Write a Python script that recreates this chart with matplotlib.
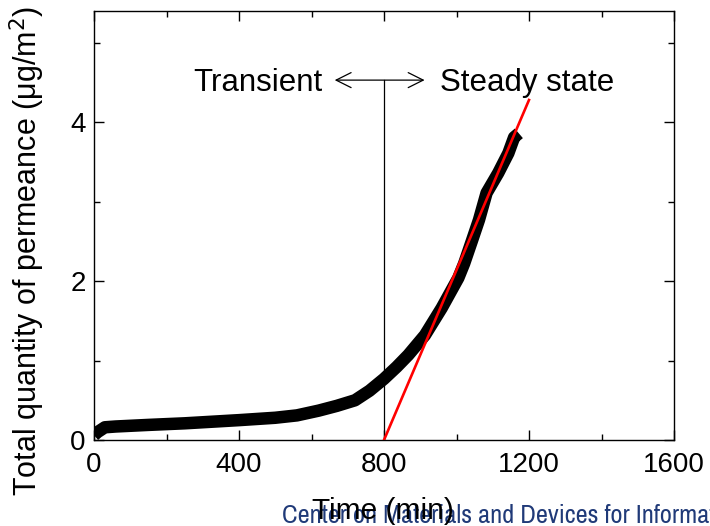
import matplotlib
matplotlib.use("Agg")
import matplotlib.pyplot as plt
from matplotlib.ticker import MultipleLocator

plt.rcParams['font.family'] = ['Liberation Sans', 'DejaVu Sans']

time_min = [0, 10, 30, 60, 150, 250, 400, 500, 560, 620, 670, 720, 760, 800,
            835, 867, 913, 959, 1005, 1021, 1042, 1062, 1083, 1115, 1143, 1159, 1172]
permeance = [0.06, 0.10, 0.16, 0.17, 0.19, 0.21, 0.25, 0.28, 0.31, 0.37, 0.43,
             0.50, 0.62, 0.77, 0.92, 1.07, 1.32, 1.66, 2.04, 2.22, 2.5, 2.77,
             3.11, 3.36, 3.61, 3.81, 3.86]

# steady-state fit line
fit_x = [800, 1200]
fit_y = [0, 4.28]

# transient / steady marker
split_x = 800
split_top = 4.53
arrow_x = [664, 912]

fig = plt.figure(figsize=(7.1, 5.26), dpi=100)
ax = fig.add_axes([94 / 710, 1 - 440 / 526, 580 / 710, 429 / 526])

ax.plot(time_min, permeance, color='black', lw=9, solid_capstyle='butt',
        solid_joinstyle='round', zorder=2)
ax.plot(fit_x, fit_y, color='red', lw=1.9, zorder=3)

ax.plot([split_x, split_x], [0, split_top], color='black', lw=0.9, zorder=1)
ax.annotate('', xy=(arrow_x[0], split_top), xytext=(arrow_x[1], split_top),
            arrowprops=dict(arrowstyle='<->', lw=0.9, color='black',
                            mutation_scale=27, shrinkA=0, shrinkB=0))
ax.text(629, 4.39, 'Transient', fontsize=22.5, ha='right', va='baseline')
ax.text(955, 4.39, 'Steady state', fontsize=22.5, ha='left', va='baseline')

ax.set_xlim(0, 1600)
ax.set_ylim(0, 5.4)
ax.xaxis.set_major_locator(MultipleLocator(400))
ax.xaxis.set_minor_locator(MultipleLocator(200))
ax.yaxis.set_major_locator(MultipleLocator(2))
ax.yaxis.set_minor_locator(MultipleLocator(1))
ax.tick_params(which='both', direction='in', top=True, right=True,
               width=1, labelsize=20)
ax.tick_params(which='major', length=7)
ax.tick_params(which='minor', length=4.5)
ax.tick_params(axis='x', pad=9)
ax.tick_params(axis='y', pad=6)
for s in ax.spines.values():
    s.set_linewidth(1)

fig.text(27 / 710, 1 - 251 / 526, 'Total quantity of permeance (\u03bcg/m$^2$)',
         rotation=90, fontsize=22, ha='center', va='center')

# footer banner sits behind the axis label, running off the right edge
fig.text(282 / 710, 1 - 523 / 526, 'Center on Materials and Devices for Information',
         fontsize=19, color='#203a78', ha='left', va='baseline',
         family=['Archivo Narrow', 'PT Sans Narrow', 'Liberation Sans'], zorder=1)
fig.text(383 / 710, 1 - 519 / 526, 'Time (min)', fontsize=21.5, color='black',
         ha='center', va='baseline', zorder=5)

fig.savefig('out.png', dpi=100)
